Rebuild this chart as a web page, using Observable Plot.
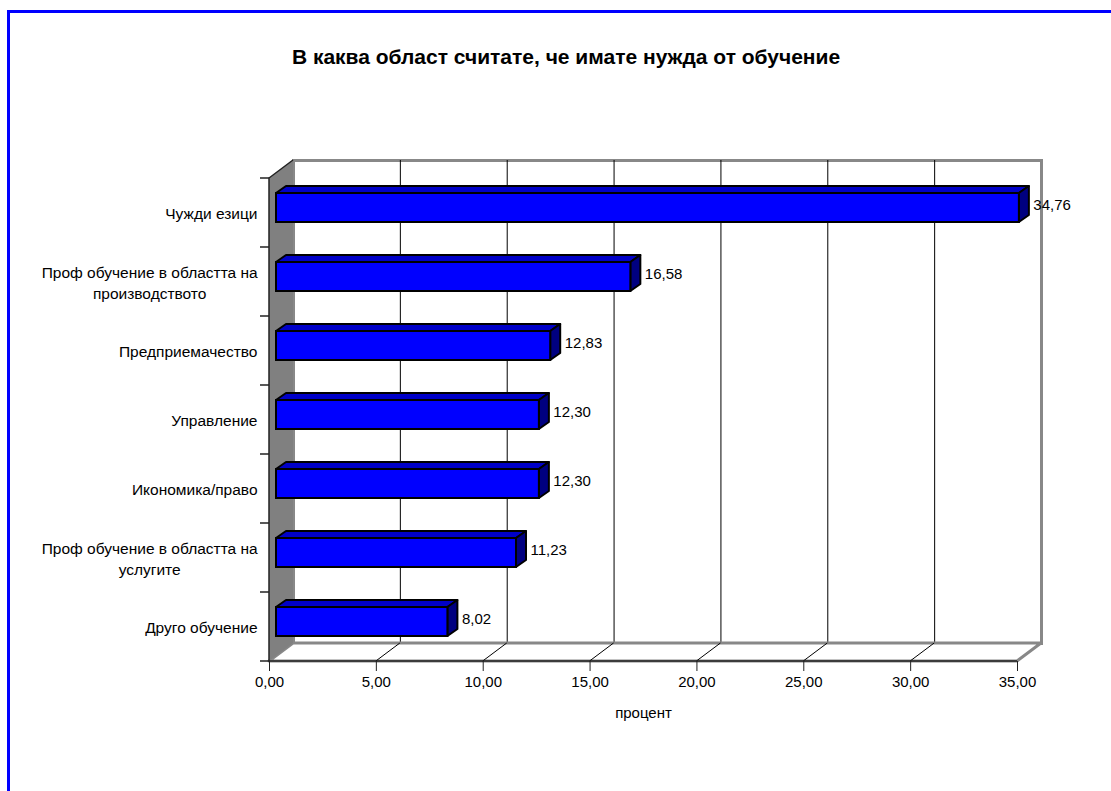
<!DOCTYPE html>
<html><head><meta charset="utf-8">
<script src="https://cdn.jsdelivr.net/npm/d3@7"></script>
<script src="https://cdn.jsdelivr.net/npm/@observablehq/plot@0.6"></script>
<style>
body{margin:0;background:#fff;width:1111px;height:791px;overflow:hidden;position:relative;font-family:"Liberation Sans",Arial,sans-serif}
#frame{position:absolute;left:7px;top:10px;width:1200px;height:900px;border-left:3px solid #0000ff;border-top:3px solid #0000ff}
#title{position:absolute;left:0;top:45px;width:1132px;text-align:center;font-weight:bold;font-size:21px;color:#000;line-height:24px}
#chart{position:absolute;left:0;top:0}
</style></head><body>
<div id="frame"></div>
<div id="chart"></div>
<div id="title">В каква област считате, че имате нужда от обучение</div>
<script>
const categories = ["Чужди езици","Проф обучение в областта на\nпроизводството","Предприемачество","Управление","Икономика/право","Проф обучение в областта на\nуслугите","Друго обучение"];
const values = [34.76,16.58,12.83,12.30,12.30,11.23,8.02];
const xTicks = [0,5,10,15,20,25,30,35];
const xLabel = "процент";

const rows = categories.map((c, i) => ({c, v: values[i]}));
const fmt = v => d3.format(".2f")(v).replace(".", ",");

// 3D depth offsets (style)
const WX = 24, WY = -18;           // wall depth
const BX = 7, BY = -5;             // bar front offset
const DX = 10, DY = -7;            // bar depth
const BAR_INSET = 20;

function dimsOf(d) {
  return {x0: d.marginLeft, x1: d.width - d.marginRight, y0: d.marginTop, y1: d.height - d.marginBottom};
}

function walls(index, scales, values, dimensions) {
  const {x0, x1, y0, y1} = dimsOf(dimensions);
  const g = d3.create("svg:g");
  g.append("path")
    .attr("d", `M${x0},${y1}L${x0+WX},${y1+WY}L${x1+WX},${y1+WY}L${x1},${y1}Z`)
    .attr("fill", "#fff").attr("stroke", "#888").attr("stroke-width", 3).attr("stroke-linejoin", "round");
  for (const t of xTicks.slice(1, -1)) {
    const X = scales.x(t);
    g.append("line").attr("x1", X).attr("y1", y1).attr("x2", X + WX).attr("y2", y1 + WY)
      .attr("stroke", "#000").attr("stroke-width", 1);
  }
  g.append("path")
    .attr("d", `M${x0},${y0}L${x0+WX},${y0+WY}L${x0+WX},${y1+WY}L${x0},${y1}Z`)
    .attr("fill", "#808080");
  g.append("path")
    .attr("d", `M${x1},${y1}L${x0},${y1}L${x0},${y0}L${x0+WX},${y0+WY}`)
    .attr("fill", "none").attr("stroke", "#222").attr("stroke-width", 1.5);
  const ys = categories.map(c => scales.y(c)).concat([y1]);
  for (const Y of ys) {
    g.append("line").attr("x1", x0 - 9).attr("x2", x0).attr("y1", Y).attr("y2", Y)
      .attr("stroke", "#222").attr("stroke-width", 1.5);
  }
  return g.node();
}

function barFaces(index, scales, values, dimensions) {
  const {y0, y1} = dimsOf(dimensions);
  const bw = (y1 - y0) / categories.length;
  const g = d3.create("svg:g").attr("stroke", "#000").attr("stroke-width", 2).attr("stroke-linejoin", "round");
  for (const d of rows) {
    const xa = scales.x(0) + BX, xb = scales.x(d.v) + BX;
    const yt = scales.y(d.c) + BAR_INSET + BY, yb = scales.y(d.c) + bw - BAR_INSET + BY;
    g.append("path").attr("d", `M${xa},${yt}L${xa+DX},${yt+DY}L${xb+DX},${yt+DY}L${xb},${yt}Z`).attr("fill", "#0000c8");
    g.append("path").attr("d", `M${xb},${yt}L${xb+DX},${yt+DY}L${xb+DX},${yb+DY}L${xb},${yb}Z`).attr("fill", "#000080");
  }
  return g.node();
}

const plot = Plot.plot({
  width: 1111,
  height: 791,
  marginLeft: 269,
  marginRight: 94,
  marginTop: 178,
  marginBottom: 130,
  style: {fontFamily: '"Liberation Sans", Arial, sans-serif', fontSize: "15px", background: "transparent", color: "#000"},
  x: {domain: [0, 35], label: null},
  y: {domain: categories, padding: 0, label: null},
  marks: [
    Plot.frame({dx: WX, dy: WY, fill: "#fff", stroke: "#888", strokeWidth: 3}),
    Plot.gridX(xTicks.slice(1, -1), {dx: WX, dy: WY, stroke: "#000", strokeOpacity: 1, strokeWidth: 1}),
    walls,
    Plot.axisX(xTicks, {tickSize: 10, tickPadding: 5, tickFormat: fmt, stroke: "#222", fill: "#000", fontSize: 15, label: null}),
    Plot.axisY({tickSize: 0, tickPadding: 12, fontSize: 15.5, lineHeight: 1.3, fill: "#000", label: null}),
    barFaces,
    Plot.barX(rows, {x: "v", y: "c", dx: BX, dy: BY, insetTop: BAR_INSET, insetBottom: BAR_INSET, fill: "#0000ff", stroke: "#000", strokeWidth: 2}),
    Plot.text(rows, {x: "v", y: "c", text: d => fmt(d.v), textAnchor: "start", dx: 21, dy: -8, fontSize: 15, fill: "#000"}),
    Plot.text([xLabel], {frameAnchor: "bottom", dy: 56, fontSize: 15, fill: "#000"})
  ]
});
document.getElementById("chart").appendChild(plot);

// center multi-line category labels horizontally within their block
plot.querySelectorAll("text").forEach(t => {
  const spans = t.querySelectorAll("tspan");
  if (spans.length > 1) {
    const bb = t.getBBox();
    const cx = bb.x + bb.width / 2;
    t.setAttribute("text-anchor", "middle");
    spans.forEach(s => s.setAttribute("x", cx));
  }
});
</script>
</body></html>
